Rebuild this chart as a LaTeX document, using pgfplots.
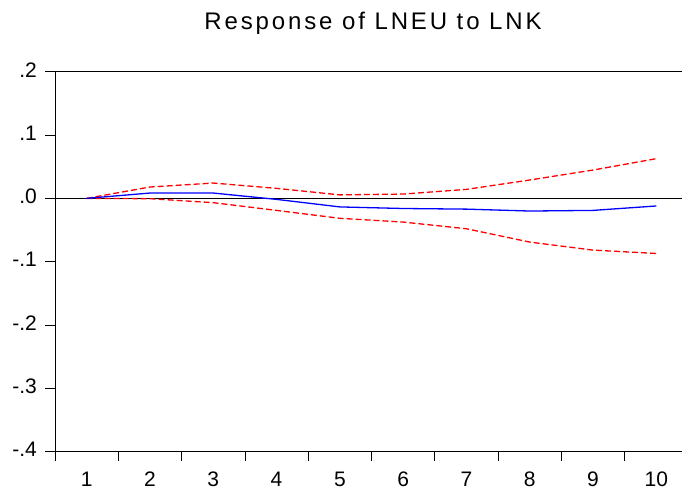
\documentclass[border=0pt]{standalone}
\usepackage{pgfplots}
\pgfplotsset{compat=1.18}
\usepackage{fontspec}
\setmainfont{Liberation Sans}
\begin{document}
\begin{tikzpicture}[x=1pt,y=1pt]
\begin{axis}[
  at={(55pt,38.3pt)}, anchor=south west,
  scale only axis, width=633pt, height=380pt,
  xmin=0.5, xmax=10.5, ymin=-0.4, ymax=0.2,
  axis line style={line width=1pt, black},
  tick align=outside,
  xtick pos=bottom, ytick pos=left,
  xtick={1,2,3,4,5,6,7,8,9,10},
  xticklabels={1,2,3,4,5,6,7,8,9,10},
  major x tick style={draw=none},
  minor xtick={0.5,1.5,2.5,3.5,4.5,5.5,6.5,7.5,8.5,9.5,10.5},
  minor tick length=9pt,
  major tick length=10pt,
  tick style={line width=0.8pt, black},
  ytick={-0.4,-0.3,-0.2,-0.1,0,0.1,0.2},
  yticklabels={-.4,-.3,-.2,-.1,.0,.1,.2},
  xticklabel style={font=\fontsize{21}{24}\selectfont, inner sep=0pt, anchor=north, yshift=-10pt},
  yticklabel style={font=\fontsize{21}{24}\selectfont, inner sep=0pt, anchor=east, xshift=-8pt, yshift=2pt},
  clip=false,
]
\addplot[black, line width=0.8pt] coordinates {(0.5,0) (10.5,0)};
\addplot[red, line width=1.3pt, dash pattern=on 6pt off 3pt] coordinates {
(1,0) (2,0.0179) (3,0.0242) (4,0.0158) (5,0.0055) (6,0.0068) (7,0.0142) (8,0.029) (9,0.0447) (10,0.0627)};
\addplot[red, line width=1.3pt, dash pattern=on 6pt off 3pt] coordinates {
(1,0) (2,-0.0005) (3,-0.0068) (4,-0.019) (5,-0.0315) (6,-0.0374) (7,-0.048) (8,-0.069) (9,-0.0817) (10,-0.087)};
\addplot[blue, line width=1.3pt] coordinates {
(1,0) (2,0.0084) (3,0.0084) (4,-0.0016) (5,-0.0135) (6,-0.016) (7,-0.017) (8,-0.020) (9,-0.019) (10,-0.012)};
\end{axis}
\node[anchor=base, font=\fontsize{24}{28}\selectfont\addfontfeature{LetterSpace=12}] at (373,460) {Response of LNEU to LNK};
\pgfresetboundingbox
\path (0,0) rectangle (682,490);
\end{tikzpicture}
\end{document}
